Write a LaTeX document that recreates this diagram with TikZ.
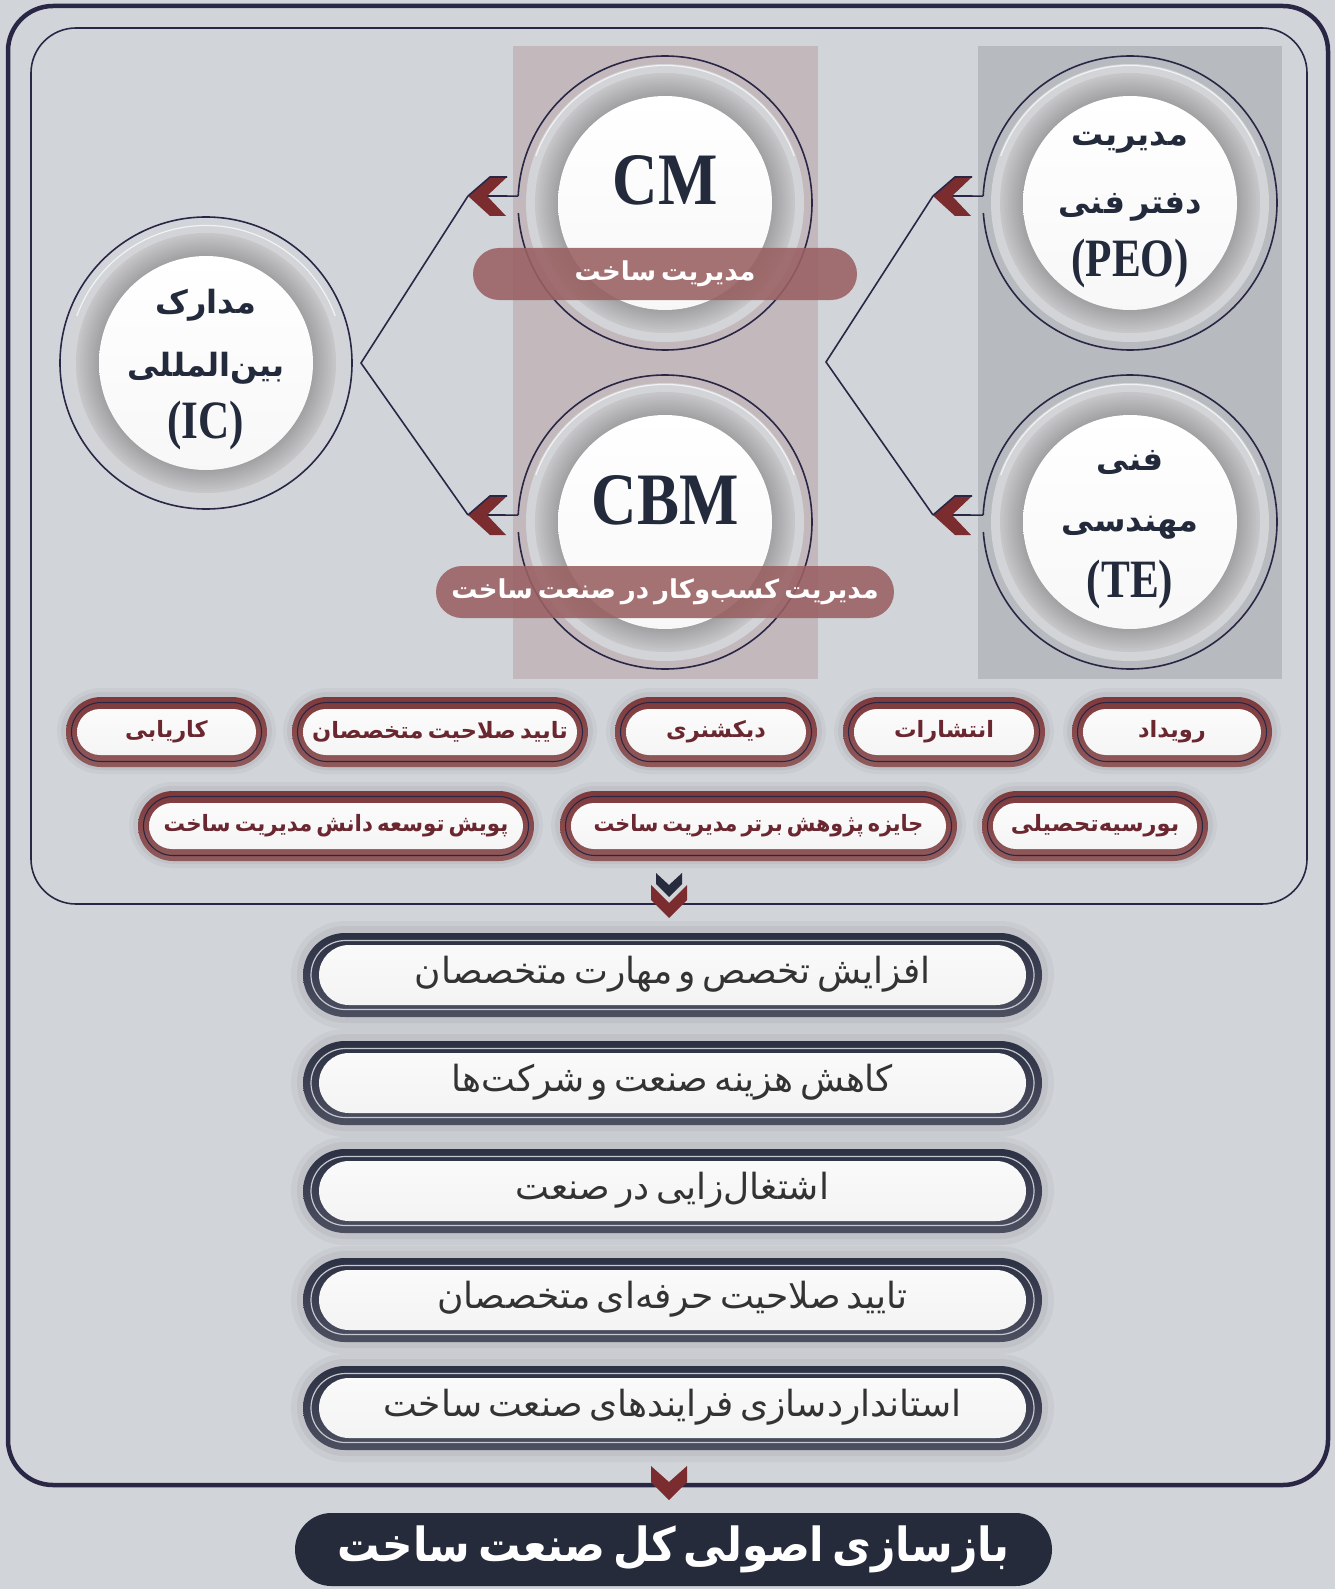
\documentclass[tikz,border=0pt]{standalone}
\usepackage{fontspec}
\usepackage{graphicx}
\TeXXeTstate=1
\newfontfamily\fa[Script=Arabic]{DejaVu Sans}
\newfontfamily\fatight[Script=Arabic, WordSpace=0.55]{DejaVu Sans}
\newfontfamily\lat{Liberation Serif}
\usetikzlibrary{calc}
\definecolor{bg}{HTML}{D1D5D9}
\definecolor{navy}{HTML}{2A2746}
\definecolor{bandA}{HTML}{C3B9BD}
\definecolor{bandB}{HTML}{B7BABE}
\definecolor{lbl}{HTML}{9A6062}
\definecolor{dred}{HTML}{7B2C2F}
\definecolor{chnavy}{HTML}{262B3D}
\definecolor{pillred}{HTML}{7E393B}
\definecolor{pillred2}{HTML}{905A5B}
\definecolor{pilltxt}{HTML}{6B2730}
\definecolor{barnavy}{HTML}{2D3144}
\definecolor{barnavy2}{HTML}{4B4F60}
\definecolor{barline}{HTML}{C6C8CF}
\definecolor{bartxt}{HTML}{333333}
\definecolor{ttl}{HTML}{262B3B}
\definecolor{txt}{HTML}{232A3B}
\definecolor{halo}{HTML}{B9BAC0}
\definecolor{ringlight}{HTML}{D3D4D7}
\definecolor{ringmid}{HTML}{C6C6C8}
\definecolor{ringdark}{HTML}{A0A0A2}
\tikzset{
  ctext/.style={font=\fa\bfseries\fontsize{32}{36}\selectfont, text=txt, inner sep=0pt},
  cabbr/.style={font=\lat\bfseries\fontsize{54}{60}\selectfont, text=txt, inner sep=0pt},
  cbig/.style={font=\lat\bfseries\fontsize{74}{80}\selectfont, text=txt, inner sep=0pt},
  lbltext/.style={font=\fa\bfseries\fontsize{26}{30}\selectfont, text=white},
  lblbox/.style={fill=lbl, fill opacity=0.88, text opacity=1, rounded corners=26pt, minimum height=52pt, inner sep=0pt},
  pilltext/.style={font=\fatight\bfseries\fontsize{22.5}{26}\selectfont, text=pilltxt, inner sep=0pt},
  bartext/.style={font=\fa\fontsize{36}{40}\selectfont, text=bartxt, inner sep=0pt},
  ttltext/.style={font=\fatight\bfseries\fontsize{47}{52}\selectfont, text=white, inner sep=0pt},
  conn/.style={navy, line width=1.6pt},
}
% circle body: #1 x, #2 y
\newcommand\discbody[2]{%
  \fill[ringlight] (#1,#2) circle[radius=139];
  \draw[white, opacity=0.7, line width=1.2pt] ($(#1,#2)+(200:137.5)$) arc[start angle=200, end angle=340, radius=137.5];
  \foreach \i in {0,...,11}{%
    \pgfmathsetmacro\rr{130-2*\i}%
    \pgfmathtruncatemacro\pc{100-\i*9}%
    \fill[ringmid!\pc!ringdark] (#1,#2) circle[radius=\rr];}
  \shade[top color=white, bottom color=white!94!gray] (#1,#2) circle[radius=107];
}
% ring with arrow gap: #1 x, #2 y
\newcommand\gapring[2]{%
  \draw[conn] ($(#1,#2)+(182.7:147)$) arc[start angle=182.7, end angle=536.1, radius=147];
  \draw[conn] ($(#1,#2)+(-178,-7)$) -- ($(#1,#2)+(182.7:147)$);
  \fill[dred] ($(#1,#2)+(-197,-7)$) -- ++(22,-19) -- ++(17,0) -- ++(-20,19) -- ++(19,20) -- ++(-16,0) -- cycle;
  \draw[conn] ($(#1,#2)+(-197,-7)$) -- ++(22,-19) -- ++(17,0);
}
% pill: #1 name, #2 x1, #3 x2, #4 yc, #5 text
\newcommand\pill[5]{%
  \fill[halo, opacity=0.3, rounded corners=44pt] (#2-9,#4-44) rectangle (#3+9,#4+42);
  \fill[halo, opacity=0.5, rounded corners=40pt] (#2-5,#4-40) rectangle (#3+5,#4+38);
  \shade[top color=pillred, bottom color=pillred2, rounded corners=35pt] (#2,#4-35) rectangle (#3,#4+35);
  \draw[navy, line width=1.1pt, rounded corners=29.5pt] (#2+5.5,#4-29.5) rectangle (#3-5.5,#4+29.5);
  \shade[top color=white!97!gray, bottom color=white!92!gray, rounded corners=23pt] (#2+11,#4-23) rectangle (#3-11,#4+23);
  \node[pilltext] (#1) at ({(#2+#3)/2},#4) {#5};
}
% bar: #1 name, #2 yc, #3 text
\newcommand\resbar[3]{%
  \fill[halo, opacity=0.3, rounded corners=54pt] (291,#2-54) rectangle (1054,#2+54);
  \fill[halo, opacity=0.5, rounded corners=48pt] (297,#2-49) rectangle (1048,#2+48);
  \shade[top color=barnavy, bottom color=barnavy2, rounded corners=42pt] (303,#2-42) rectangle (1042,#2+42);
  \draw[barline, line width=1.2pt, rounded corners=34.5pt] (311,#2-34.5) rectangle (1034,#2+34.5);
  \shade[top color=white!96!gray, bottom color=white!91!gray, rounded corners=30pt] (319,#2-30) rectangle (1026,#2+30);
  \node[bartext] (#1) at (672.5,#2-1) {#3};
}
\begin{document}
\begin{tikzpicture}[x=1pt,y=-1pt]
\useasboundingbox (0,0) rectangle (1335,1589);
\fill[bg] (0,0) rectangle (1335,1589);
% frames
\draw[navy, line width=4.5pt, rounded corners=45pt] (8,6) rectangle (1328,1485);
\draw[navy, line width=1.6pt, rounded corners=45pt] (31,28) rectangle (1307,904);
% bands
\fill[bandA] (513,46) rectangle (818,679);
\fill[bandB] (978,46) rectangle (1282,679);
% named anchors
\coordinate (icv) at (361,363);
\coordinate (rv) at (826,362);
\coordinate (cmtip) at (468,196);
\coordinate (cbmtip) at (468,515);
\coordinate (peotip) at (933,196);
\coordinate (tetip) at (933,515);
% connectors
\draw[conn] (cmtip) -- (icv) -- (cbmtip);
\draw[conn] (peotip) -- (rv) -- (tetip);
% circles
\node[circle, minimum size=294pt, inner sep=0pt] (ic) at (206,363) {};
\node[circle, minimum size=294pt, inner sep=0pt] (cm) at (665,203) {};
\node[circle, minimum size=294pt, inner sep=0pt] (cbm) at (665,522) {};
\node[circle, minimum size=294pt, inner sep=0pt] (peo) at (1130,203) {};
\node[circle, minimum size=294pt, inner sep=0pt] (te) at (1130,522) {};
\draw[conn] (ic.center) circle[radius=146];
\discbody{206}{363}
\gapring{665}{203}\discbody{665}{203}
\gapring{665}{522}\discbody{665}{522}
\gapring{1130}{203}\discbody{1130}{203}
\gapring{1130}{522}\discbody{1130}{522}
% circle texts
\node[ctext] (ic1) at (206,305) {\beginR مدارک\endR};
\node[ctext] (ic2) at (206,368) {\beginR بین^^^^200cالمللی\endR};
\node[cabbr] (ic3) at (206,426) {\scalebox{0.8}[1]{(IC)}};
\node[cbig] (cmt) at (665,180) {\scalebox{0.85}[1]{CM}};
\node[cbig] (cbmt) at (665,500) {\scalebox{0.85}[1]{CBM}};
\node[ctext] (peo1) at (1130,143) {\beginR مدیریت\endR};
\node[ctext] (peo2) at (1130,207) {\beginR دفتر فنی\endR};
\node[cabbr] (peo3) at (1130,264) {\scalebox{0.8}[1]{(PEO)}};
\node[ctext] (te1) at (1130,462) {\beginR فنی\endR};
\node[ctext] (te2) at (1130,528) {\beginR مهندسی\endR};
\node[cabbr] (te3) at (1130,585) {\scalebox{0.8}[1]{(TE)}};
% labels
\node[lblbox, minimum width=384pt, lbltext] (cmlbl) at (665,274) {\beginR مدیریت ساخت\endR};
\node[lblbox, minimum width=458pt, lbltext] (cbmlbl) at (665,592) {\beginR مدیریت کسب^^^^200cوکار در صنعت ساخت\endR};
% pills
\pill{p1}{66}{267}{732}{\beginR کاریابی\endR}
\pill{p2}{292}{588}{732}{\beginR تایید صلاحیت متخصصان\endR}
\pill{p3}{615}{817}{732}{\beginR دیکشنری\endR}
\pill{p4}{843}{1045}{732}{\beginR انتشارات\endR}
\pill{p5}{1072}{1272}{732}{\beginR رویداد\endR}
\pill{q1}{138}{534}{826}{\scalebox{0.95}[1]{\beginR پویش توسعه دانش مدیریت ساخت\endR}}
\pill{q2}{560}{957}{826}{\scalebox{0.92}[1]{\beginR جایزه پژوهش برتر مدیریت ساخت\endR}}
\pill{q3}{982}{1208}{826}{\beginR بورسیه^^^^200cتحصیلی\endR}
% double chevron
\fill[chnavy] (656,873) -- (669,885) -- (682,873) -- (682,884) -- (669,897) -- (656,884) -- cycle;
\fill[dred] (651,885) -- (669,903) -- (687,885) -- (687,900) -- (669,918) -- (651,900) -- cycle;
% bars
\resbar{b1}{975}{\beginR افزایش تخصص و مهارت متخصصان\endR}
\resbar{b2}{1083}{\beginR کاهش هزینه صنعت و شرکت^^^^200cها\endR}
\resbar{b3}{1191}{\beginR اشتغال^^^^200cزایی در صنعت\endR}
\resbar{b4}{1300}{\beginR تایید صلاحیت حرفه^^^^200cای متخصصان\endR}
\resbar{b5}{1408}{\beginR استانداردسازی فرایندهای صنعت ساخت\endR}
% bottom chevron
\fill[dred] (651,1466) -- (669,1482) -- (687,1466) -- (687,1482) -- (669,1500) -- (651,1482) -- cycle;
% title
\fill[ttl, rounded corners=36.5pt] (295,1513) rectangle (1052,1586);
\node[ttltext] (title) at (673.5,1549) {\scalebox{0.9}[1]{\beginR بازسازی اصولی کل صنعت ساخت\endR}};
\end{tikzpicture}
\end{document}
